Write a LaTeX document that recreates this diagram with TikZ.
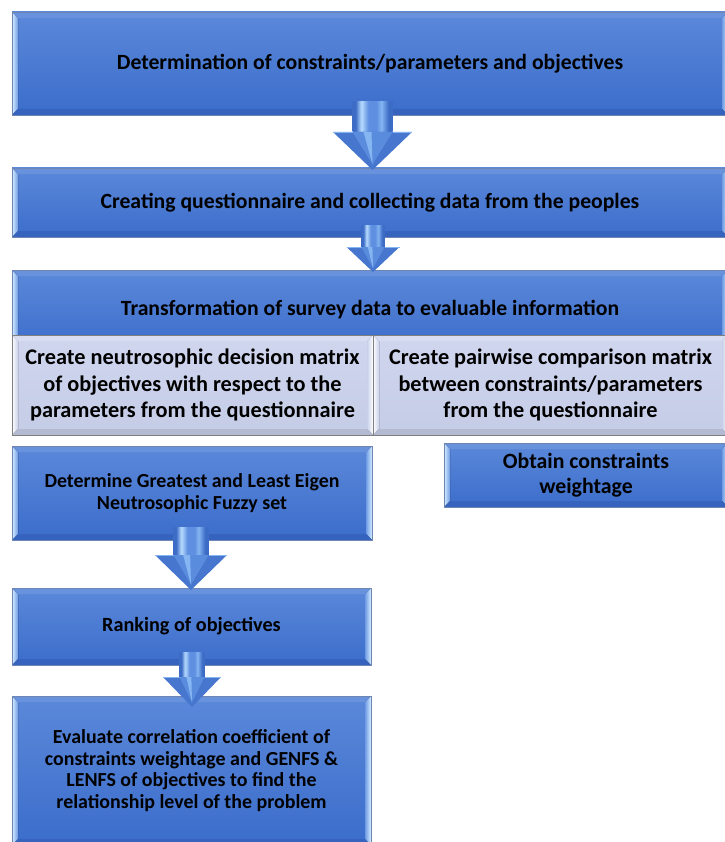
\documentclass[tikz,border=0pt]{standalone}
\usepackage{fontspec}
\setmainfont{Carlito}
\usetikzlibrary{calc}

% face and bevel colours of the blue boxes
\definecolor{faceT}{HTML}{5B88D9}
\definecolor{faceB}{HTML}{3B6DCB}
\definecolor{blueedge}{HTML}{6F85B3}
\definecolor{bvOut}{HTML}{D6EEFF}
\definecolor{bvIn}{HTML}{6E9BE4}
\definecolor{bvTop}{HTML}{6892DC}
\definecolor{bvBot}{HTML}{3563BE}
% pale matrix boxes
\definecolor{paleT}{HTML}{D0D6EE}
\definecolor{paleB}{HTML}{C5CCE6}
\definecolor{greyedge}{HTML}{7F7F7F}
\definecolor{pvOut}{HTML}{FFFFFF}
\definecolor{pvIn}{HTML}{C9D0EA}
\definecolor{pvTop}{HTML}{D8DDF2}
\definecolor{pvBot}{HTML}{B3BAD2}
% block arrows
\definecolor{arrD}{HTML}{3D6CC6}
\definecolor{arrL}{HTML}{B8DCFF}
\definecolor{arrM}{HTML}{5E8FE0}
\definecolor{arrHead}{HTML}{4676CE}
\definecolor{arrFacet}{HTML}{5A8CDE}
\definecolor{arrShine}{HTML}{86B6F2}

\pgfdeclarehorizontalshading{shaftshade}{100bp}{%
  color(0bp)=(arrD); color(25bp)=(arrD); color(29bp)=(arrD);
  color(36bp)=(arrL); color(45bp)=(arrM); color(55bp)=(arrM);
  color(61bp)=(arrShine); color(70bp)=(arrD); color(75bp)=(arrD); color(100bp)=(arrD)}

\newcommand\fsz[2]{\bfseries\fontsize{#1}{#2}\selectfont}

\tikzset{
  bluebox/.style={draw=blueedge, line width=0.7pt, top color=faceT, bottom color=faceB,
    inner sep=0pt, outer sep=0pt, align=center, text=black, anchor=north west},
  palebox/.style={draw=greyedge, line width=0.9pt, top color=paleT, bottom color=paleB,
    inner sep=0pt, outer sep=0pt, align=center, text=black, anchor=north west},
}

% bevelled frame drawn over a box: #1 node, #2 depth, #3 outer side colour,
% #4 inner side colour, #5 top strip, #6 bottom strip, #7 edge colour
\newcommand\bevelframe[7]{%
  \fill[left color=#3, right color=#4] (#1.north west) -- ($(#1.north west)+(#2,#2)$)
    -- ($(#1.south west)+(#2,-#2)$) -- (#1.south west) -- cycle;
  \fill[left color=#4, right color=#3] (#1.north east) -- ($(#1.north east)+(-#2,#2)$)
    -- ($(#1.south east)+(-#2,-#2)$) -- (#1.south east) -- cycle;
  \fill[#5] (#1.north west) -- (#1.north east) -- ($(#1.north east)+(-#2,#2)$)
    -- ($(#1.north west)+(#2,#2)$) -- cycle;
  \fill[#6] (#1.south west) -- (#1.south east) -- ($(#1.south east)+(-#2,-#2)$)
    -- ($(#1.south west)+(#2,-#2)$) -- cycle;
  \draw[#7, line width=0.7pt] (#1.north west) rectangle (#1.south east);
}
\newcommand\bluebevel[1]{\bevelframe{#1}{6}{bvOut}{bvIn}{bvTop}{bvBot}{blueedge}}
\newcommand\palebevel[1]{\bevelframe{#1}{6}{pvOut}{pvIn}{pvTop}{pvBot}{greyedge}}

% block arrow between two boxes: #1 from, #2 to, #3 x shift, #4 rise into source,
% #5 overshoot into target, #6 half shaft, #7 half head, #8 head length
\newcommand\flowarrow[8]{%
  \path let \p1=(#1.south), \p2=(#2.north) in
    coordinate (#1-#2-a) at ({\x1+#3pt},{\y1+#4pt})
    coordinate (#1-#2-b) at ({\x1+#3pt},{\y2-#5pt});
  \shade[shading=shaftshade] ($(#1-#2-a)+(-#6,0)$) rectangle ($(#1-#2-b)+(#6,-#8)$);
  \fill[arrHead] ($(#1-#2-b)+(-#7,-#8)$) -- ($(#1-#2-b)+(#7,-#8)$) -- (#1-#2-b) -- cycle;
  \draw[arrShine, line width=0.6pt] ($(#1-#2-b)+(-#7,-#8)$) -- ($(#1-#2-b)+(-#6,-#8)$)
    ($(#1-#2-b)+(#6,-#8)$) -- ($(#1-#2-b)+(#7,-#8)$);
  \fill[arrFacet] ($(#1-#2-b)+(-#6,-#8)$) -- ($(#1-#2-b)+(#6,-#8)$)
    -- ($(#1-#2-b)+(0,-0.15*#8)$) -- cycle;
  \fill[arrShine] ($(#1-#2-b)+(-0.45*#6,-#8)$) -- ($(#1-#2-b)+(-0.05*#6,-#8)$)
    -- ($(#1-#2-b)+(0,-0.15*#8)$) -- cycle;
}

\begin{document}
\begin{tikzpicture}[x=1pt,y=-1pt]
\useasboundingbox (0,0) rectangle (724,842);

% main column of wide steps
\node[bluebox, font=\fsz{21.7}{26}, minimum width=716pt, minimum height=103pt] (det) at (12,12)
  {Determination of constraints/parameters and objectives};
\bluebevel{det}
\node[bluebox, font=\fsz{21.7}{26}, minimum width=716pt, minimum height=69pt] (quest) at (12,168)
  {Creating questionnaire and collecting data from the peoples};
\bluebevel{quest}
\node[bluebox, font=\fsz{21.7}{26}, minimum width=716pt, minimum height=80pt] (trans) at (12,270)
  {Transformation of survey data to evaluable information};
\bluebevel{trans}

% the two matrices
\node[palebox, font=\fsz{22.3}{26.3}, minimum width=361pt, minimum height=100pt] (nmat) at (12,335)
  {Create neutrosophic decision matrix\\
   of objectives with respect to the\\ parameters from the questionnaire};
\palebevel{nmat}
\node[palebox, font=\fsz{22.3}{26.3}, minimum width=355pt, minimum height=100pt] (pmat) at (373,335)
  {Create pairwise comparison matrix\\
   between constraints/parameters\\ from the questionnaire};
\palebevel{pmat}

% lower steps
\node[bluebox, font=\fsz{19.9}{22.5}, minimum width=360pt, minimum height=94pt] (eigen) at (12,446)
  {Determine Greatest and Least Eigen\\ Neutrosophic Fuzzy set};
\bluebevel{eigen}
\node[bluebox, font=\fsz{21.8}{24.5}, minimum width=284pt, minimum height=64pt] (weight) at (444,443)
  {Obtain constraints\\ weightage};
\bluebevel{weight}
\node[bluebox, font=\fsz{20.2}{23}, minimum width=359pt, minimum height=77pt] (rank) at (12,588)
  {Ranking of objectives};
\bluebevel{rank}
\node[bluebox, font=\fsz{19.9}{21.7}, minimum width=359pt, minimum height=149pt] (corr) at (12,696)
  {Evaluate correlation coefficient of\\
   constraints weightage and GENFS \&\\ LENFS of objectives to find the\\
   relationship level of the problem};
\bluebevel{corr}

% arrows
\flowarrow{det}{quest}{2.5}{13}{2}{20}{39.5}{38}
\flowarrow{quest}{trans}{3}{12}{2}{11.5}{26.5}{25}
\flowarrow{eigen}{rank}{-1}{13}{2}{17.5}{36}{35}
\flowarrow{rank}{corr}{0.5}{13}{11}{12.5}{29}{30}
\end{tikzpicture}
\end{document}
